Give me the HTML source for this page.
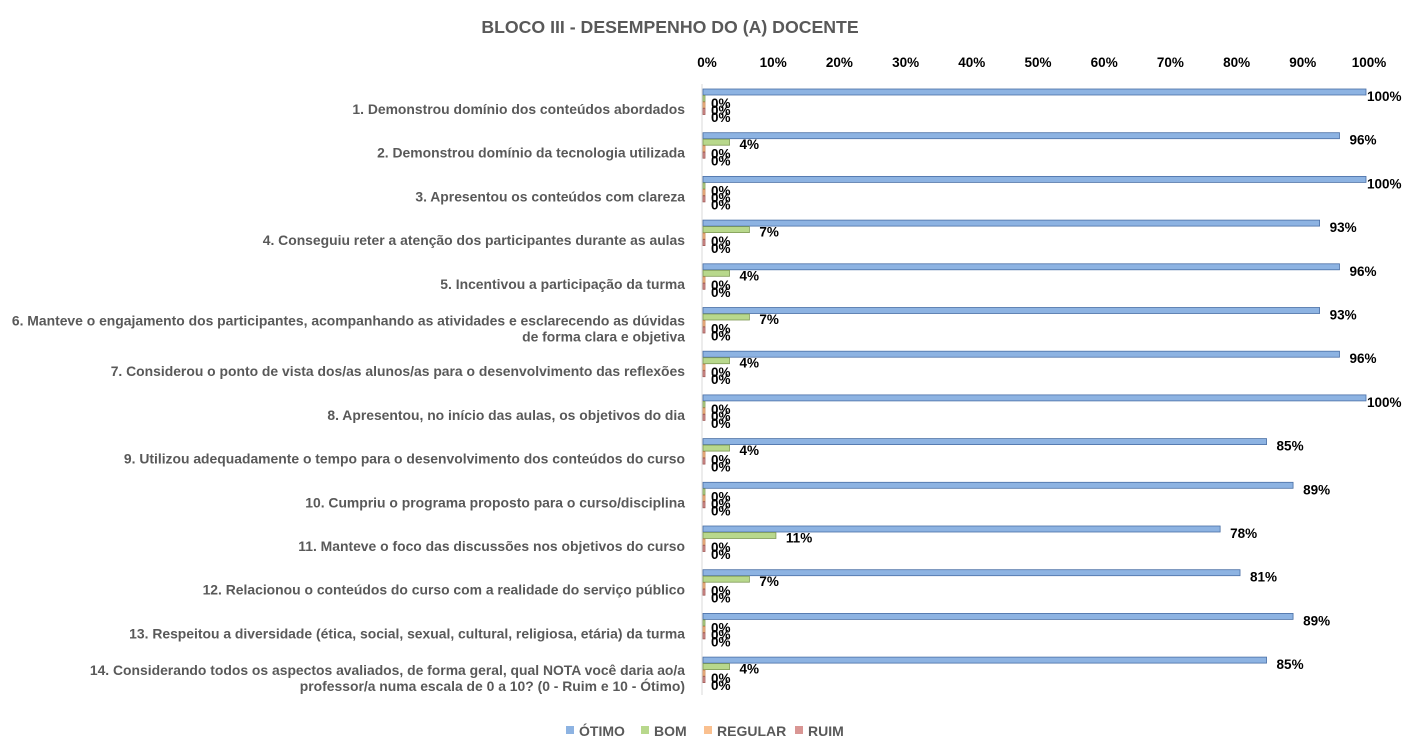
<!DOCTYPE html>
<html><head><meta charset="utf-8"><style>body{margin:0;background:#fff}svg{display:block;font-family:"Liberation Sans",sans-serif;font-weight:bold}</style></head><body>
<svg width="1406" height="753" viewBox="0 0 1406 753" xmlns="http://www.w3.org/2000/svg">
<text x="670" y="33" font-size="17.7" fill="#595959" text-anchor="middle">BLOCO III - DESEMPENHO DO (A) DOCENTE</text>
<g font-size="13.5" fill="#000" text-anchor="middle" id="ax"></g>
<line x1="702" y1="84" x2="702" y2="695" stroke="#d9d9d9"/>
<g id="bars"></g>
<g font-size="14" fill="#595959" id="legend">
<rect x="566" y="726" width="8" height="8" fill="#8db3e2"/><text x="579" y="736" >ÓTIMO</text>
<rect x="641" y="726" width="8" height="8" fill="#b8d88c"/><text x="654" y="736">BOM</text>
<rect x="704" y="726" width="8" height="8" fill="#fac08f"/><text x="717" y="736">REGULAR</text>
<rect x="795" y="726" width="8" height="8" fill="#d99694"/><text x="808" y="736">RUIM</text>
</g>
</svg>
<script>
var ns="http://www.w3.org/2000/svg";
function el(p,t,a,txt){var e=document.createElementNS(ns,t);for(var k in a)e.setAttribute(k,a[k]);if(txt!==undefined)e.textContent=txt;p.appendChild(e);return e;}
var ax=document.getElementById('ax');
for(var i=0;i<=10;i++)el(ax,'text',{x:707+66.2*i,y:67},(i*10)+'%');
var labels=[["1. Demonstrou domínio dos conteúdos abordados"],["2. Demonstrou domínio da tecnologia utilizada"],["3. Apresentou os conteúdos com clareza"],["4. Conseguiu reter a atenção dos participantes durante as aulas"],["5. Incentivou a participação da turma"],["6. Manteve o engajamento dos participantes, acompanhando as atividades e esclarecendo as dúvidas","de forma clara e objetiva"],["7. Considerou o ponto de vista dos/as alunos/as para o desenvolvimento das reflexões"],["8. Apresentou, no início das aulas, os objetivos do dia"],["9. Utilizou adequadamente o tempo para o desenvolvimento dos conteúdos do curso"],["10. Cumpriu o programa proposto para o curso/disciplina"],["11. Manteve o foco das discussões nos objetivos do curso"],["12. Relacionou o conteúdos do curso com a realidade do serviço público"],["13. Respeitou a diversidade (ética, social, sexual, cultural, religiosa, etária) da turma"],["14. Considerando todos os aspectos avaliados, de forma geral, qual NOTA você daria ao/a","professor/a numa escala de 0 a 10? (0 - Ruim e 10 - Ótimo)"]];
var ot=[100,96,100,93,96,93,96,100,85,89,78,81,89,85],bo=[0,4,0,7,4,7,4,0,4,0,11,7,0,4];
var g=document.getElementById('bars');
var cols=["#8db3e2","#b8d88c","#fac08f","#d99694"],edge=["#4a6fa5","#7f9a55","#c08050","#a05a58"];
for(var r=0;r<14;r++){
 var y=89+43.7*r;
 var L=labels[r];
 if(L.length==1)el(g,'text',{x:685,y:y+25,'font-size':13.9,fill:'#595959','text-anchor':'end'},L[0]);
 else{el(g,'text',{x:685,y:y+34-16,'font-size':13.9,fill:'#595959','text-anchor':'end'},L[0]);el(g,'text',{x:685,y:y+34,'font-size':13.9,fill:'#595959','text-anchor':'end'},L[1]);}
 var vals=[ot[r],bo[r],0,0];
 for(var s=0;s<4;s++){
  var yy=y+s*6.5, w=Math.max(2,vals[s]*6.63);
  el(g,'rect',{x:703,y:yy,width:w,height:6,fill:cols[s],stroke:edge[s],'stroke-width':0.8});
  var lx=703+w+(vals[s]==100?1:(vals[s]==0?6:10));
  var ty=s==0?yy+12:(s==1?yy+10:(s==2?yy+9:yy+9));
  if(vals[s]==0) ty=y+(s==1?19:(s==2?26:33));
  el(g,'text',{x:lx,y:ty,'font-size':13.5,fill:'#000'},vals[s]+'%');
 }
}
</script>
</body></html>
